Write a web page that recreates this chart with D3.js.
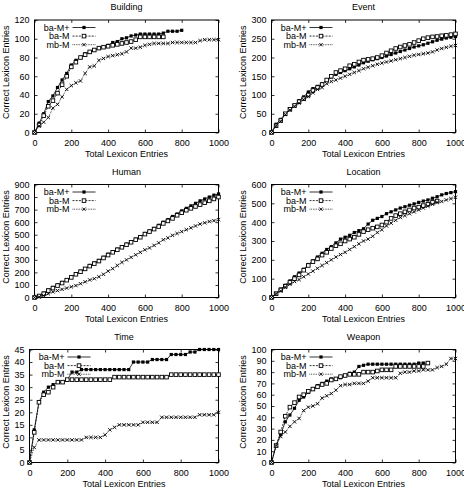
<!DOCTYPE html>
<html>
<head>
<meta charset="utf-8">
<title>Lexicon entries</title>
<script src="https://d3js.org/d3.v7.min.js"></script>
<style>
  body { margin: 0; background: #fff; }
  svg { display: block; font-family: "Liberation Sans", Arial, Helvetica, sans-serif; }
  .tick-label { font-size: 9px; fill: #000; }
  .axis-title { font-size: 9px; fill: #000; }
  .panel-title { font-size: 9px; fill: #000; }
</style>
</head>
<body>
<div id="chart"></div>
<script>
// x positions (total lexicon entries)
var entries = [0,25,50,75,100,125,150,175,200,225,250,275,300,325,350,375,400,425,450,475,500,
               525,550,575,600,625,650,675,700,725,750,775,800,825,850,875,900,925,950,975,1000];

var seriesNames = ["ba-M+", "ba-M", "mb-M"];
var xTicks = [0, 200, 400, 600, 800, 1000];

// Building
var buildingBaMPlus = [0,10,20,33,39,48,56,63,72,77,80,84,86,88,90,91,93,96,97,100,101,103,104,105,105,105,105,105,106,108,108,108,109];
var buildingBaM = [0,8,18,28,34,42,51,60,70,75,80,83,86,88,90,91,92,93,94,95,96,97,99,102,102,102,102,102,102];
var buildingMbM = [0,7,11,16,26,30,38,46,50,53,55,63,70,71,77,79,81,82,83,84,86,90,90,91,93,94,95,95,95,95,96,96,96,96,96,96,98,99,99,99,99];
var buildingYTicks = [0,20,40,60,80,100,120];

// Event
var eventBaMPlus = [0,22,35,50,62,73,85,95,108,117,123,130,140,148,155,160,165,170,175,180,186,190,194,197,200,204,208,212,216,220,224,228,231,234,238,242,246,249,252,254,256];
var eventBaM = [0,18,32,50,62,72,82,90,100,112,120,128,140,150,160,165,170,178,182,188,193,195,197,200,205,212,218,224,228,232,235,240,245,250,253,255,256,258,259,261,263];
var eventMbM = [0,18,30,48,60,70,78,88,96,106,115,120,130,136,140,145,150,155,160,165,170,174,178,182,185,188,191,194,197,200,203,206,208,210,212,215,220,224,227,230,232];
var eventYTicks = [0,50,100,150,200,250,300];

// Human
var humanBaMPlus = [0,15,35,60,80,100,120,140,165,190,210,230,255,275,295,320,345,365,385,405,425,445,465,485,510,530,550,575,600,620,645,665,690,710,730,750,770,785,800,815,825];
var humanBaM = [0,12,30,55,75,95,115,138,160,185,205,228,250,270,290,315,338,360,380,400,420,440,460,480,505,525,545,565,590,610,630,655,675,695,710,725,740,755,770,785,800];
var humanMbM = [0,5,15,30,45,55,65,75,85,95,110,125,140,150,165,185,210,230,255,280,300,320,340,360,380,395,415,435,460,475,495,510,525,540,555,570,585,595,605,612,620];
var humanYTicks = [0,100,200,300,400,500,600,700,800,900];

// Location
var locationBaMPlus = [0,22,45,65,88,110,130,150,175,195,215,235,255,270,290,310,320,330,345,355,365,390,410,420,430,445,455,465,475,482,490,497,505,512,518,527,535,545,552,557,562];
var locationBaM = [0,20,40,60,80,100,120,145,170,190,205,225,240,260,275,285,300,310,320,335,350,360,368,375,385,400,420,435,445,455,465,475,480,488,495,505,512];
var locationMbM = [0,20,35,55,70,85,95,110,125,140,155,170,185,200,215,228,240,255,270,285,300,310,325,345,360,380,395,410,425,435,445,455,465,475,485,495,505,510,518,525,532];
var locationYTicks = [0,100,200,300,400,500,600];

// Time
var timeBaMPlus = [0,13,24,28,30,31,32,32,33,36,36,37,37,37,37,37,37,37,37,37,37,37,40,40,40,40,41,41,41,41,43,43,43,43,44,44,45,45,45,45,45];
var timeBaM = [0,12,24,27,28,30,32,32,33,33,33,33,33,33,33,33,33,33,34,34,34,34,34,34,34,34,34,34,34,34,35,35,35,35,35,35,35,35,35,35,35];
var timeMbM = [0,6,9,9,9,9,9,9,9,9,9,9,10,10,10,10,11,13,14,15,15,15,15,15,16,16,16,16,18,18,18,18,18,18,18,18,19,19,19,19,20];
var timeYTicks = [0,5,10,15,20,25,30,35,40,45];

// Weapon
var weaponBaMPlus = [0,15,25,36,42,48,55,58,62,65,68,70,72,74,74,75,77,79,80,85,86,87,87,87,87,87,87,87,87,87,87,87,88,88,88];
var weaponBaM = [0,15,27,41,49,53,58,60,63,65,67,69,70,73,74,76,77,78,78,78,80,80,80,81,82,82,82,85,85,85,85,85,85,85,88];
var weaponMbM = [0,15,23,27,32,36,39,46,49,50,52,57,59,61,64,68,69,69,70,70,70,72,75,75,75,75,75,75,79,80,80,81,81,82,82,82,84,85,87,92,92];
var weaponYTicks = [0,10,20,30,40,50,60,70,80,90,100];

var panelData = [
  {title: "Building", series: [buildingBaMPlus, buildingBaM, buildingMbM], yTicks: buildingYTicks},
  {title: "Event",    series: [eventBaMPlus, eventBaM, eventMbM],          yTicks: eventYTicks},
  {title: "Human",    series: [humanBaMPlus, humanBaM, humanMbM],          yTicks: humanYTicks},
  {title: "Location", series: [locationBaMPlus, locationBaM, locationMbM], yTicks: locationYTicks},
  {title: "Time",     series: [timeBaMPlus, timeBaM, timeMbM],             yTicks: timeYTicks},
  {title: "Weapon",   series: [weaponBaMPlus, weaponBaM, weaponMbM],       yTicks: weaponYTicks}
];

// plot rectangles inside the 464x492 page
var layout = [
  {left: 34.5,  right: 218.5, top: 20,   bottom: 132.5, ylab: 5.5},
  {left: 271.5, right: 455.5, top: 20,   bottom: 132.5, ylab: 242.5},
  {left: 34.5,  right: 218.5, top: 184.5, bottom: 297.5, ylab: 5.5},
  {left: 271.5, right: 455.5, top: 184.5, bottom: 297.5, ylab: 242.5},
  {left: 29.5,  right: 218.5, top: 349.5, bottom: 462.5, ylab: 5.5},
  {left: 271.5, right: 455.5, top: 349.5, bottom: 462.5, ylab: 242.5}
];

var lineStyles = [
  {dash: null,  width: 0.8},
  {dash: "2,1.2", width: 0.8},
  {dash: "0.8,0.9", width: 0.8}
];

var svg = d3.select("#chart").append("svg")
  .attr("width", 464)
  .attr("height", 492);

function drawMarker(g, kind, cx, cy) {
  if (kind === 0) {
    g.append("rect").attr("x", cx - 1.6).attr("y", cy - 1.6)
      .attr("width", 3.2).attr("height", 3.2).attr("fill", "#000");
  } else if (kind === 1) {
    g.append("rect").attr("x", cx - 1.8).attr("y", cy - 1.8)
      .attr("width", 3.6).attr("height", 3.6)
      .attr("fill", "#fff").attr("stroke", "#000").attr("stroke-width", 0.9);
  } else {
    g.append("path")
      .attr("d", "M" + (cx - 1.7) + "," + (cy - 1.7) + "L" + (cx + 1.7) + "," + (cy + 1.7) +
                 "M" + (cx - 1.7) + "," + (cy + 1.7) + "L" + (cx + 1.7) + "," + (cy - 1.7))
      .attr("stroke", "#000").attr("stroke-width", 0.9);
  }
}

panelData.forEach(function(p, pi) {
  var L = layout[pi];
  var yMax = p.yTicks[p.yTicks.length - 1];

  var x = d3.scaleLinear().domain([0, 1000]).range([L.left, L.right]);
  var y = d3.scaleLinear().domain([0, yMax]).range([L.bottom, L.top]);

  var g = svg.append("g").attr("class", "panel");

  // ticks, mirrored on all four sides, pointing inward
  var xAxisB = d3.axisBottom(x).tickValues(xTicks).tickSize(-3).tickPadding(5).tickFormat(d3.format("d"));
  var xAxisT = d3.axisTop(x).tickValues(xTicks).tickSize(-3).tickFormat("");
  var yAxisL = d3.axisLeft(y).tickValues(p.yTicks).tickSize(-3).tickPadding(5).tickFormat(d3.format("d"));
  var yAxisR = d3.axisRight(y).tickValues(p.yTicks).tickSize(-3).tickFormat("");

  var axB = g.append("g").attr("transform", "translate(0," + L.bottom + ")").call(xAxisB);
  var axT = g.append("g").attr("transform", "translate(0," + L.top + ")").call(xAxisT);
  var axL = g.append("g").attr("transform", "translate(" + L.left + ",0)").call(yAxisL);
  var axR = g.append("g").attr("transform", "translate(" + L.right + ",0)").call(yAxisR);

  [axB, axT, axL, axR].forEach(function(a) {
    a.select(".domain").remove();
    a.selectAll(".tick line").attr("stroke", "#000").attr("stroke-width", 0.8);
    a.selectAll("text").attr("class", "tick-label").attr("font-family", null).attr("font-size", null);
  });
  axB.selectAll("text").attr("dy", "0.9em");

  // frame
  g.append("rect")
    .attr("x", L.left).attr("y", L.top)
    .attr("width", L.right - L.left).attr("height", L.bottom - L.top)
    .attr("fill", "none").attr("stroke", "#000").attr("stroke-width", 1);

  // series lines and markers
  p.series.forEach(function(vals, si) {
    var pts = vals.map(function(v, i) { return [entries[i], v]; });
    var line = d3.line().x(function(d) { return x(d[0]); }).y(function(d) { return y(d[1]); });
    g.append("path")
      .datum(pts)
      .attr("d", line)
      .attr("fill", "none")
      .attr("stroke", "#000")
      .attr("stroke-width", lineStyles[si].width)
      .attr("stroke-dasharray", lineStyles[si].dash);
    var mg = g.append("g");
    pts.forEach(function(d) { drawMarker(mg, si, x(d[0]), y(d[1])); });
  });

  // legend
  seriesNames.forEach(function(name, si) {
    var ly = L.top + 7.5 + si * 8.6;
    var tx = L.left + 35;
    g.append("text").attr("class", "tick-label")
      .attr("x", tx).attr("y", ly).attr("dy", "0.35em")
      .attr("text-anchor", "end").text(name);
    g.append("line")
      .attr("x1", tx + 3).attr("x2", tx + 26).attr("y1", ly).attr("y2", ly)
      .attr("stroke", "#000").attr("stroke-width", lineStyles[si].width)
      .attr("stroke-dasharray", lineStyles[si].dash);
    var lg = g.append("g");
    drawMarker(lg, si, tx + 14.5, ly);
  });

  // titles
  var cx = (L.left + L.right) / 2;
  g.append("text").attr("class", "panel-title")
    .attr("x", cx).attr("y", L.top - 13).attr("dy", "0.35em")
    .attr("text-anchor", "middle").text(p.title);
  g.append("text").attr("class", "axis-title")
    .attr("x", cx).attr("y", L.bottom + 21.5).attr("dy", "0.35em")
    .attr("text-anchor", "middle").text("Total Lexicon Entries");
  g.append("text").attr("class", "axis-title")
    .attr("transform", "translate(" + L.ylab + "," + ((L.top + L.bottom) / 2 - 4) + ") rotate(-90)")
    .attr("dy", "0.35em")
    .attr("text-anchor", "middle").text("Correct Lexicon Entries");
});
</script>
</body>
</html>
